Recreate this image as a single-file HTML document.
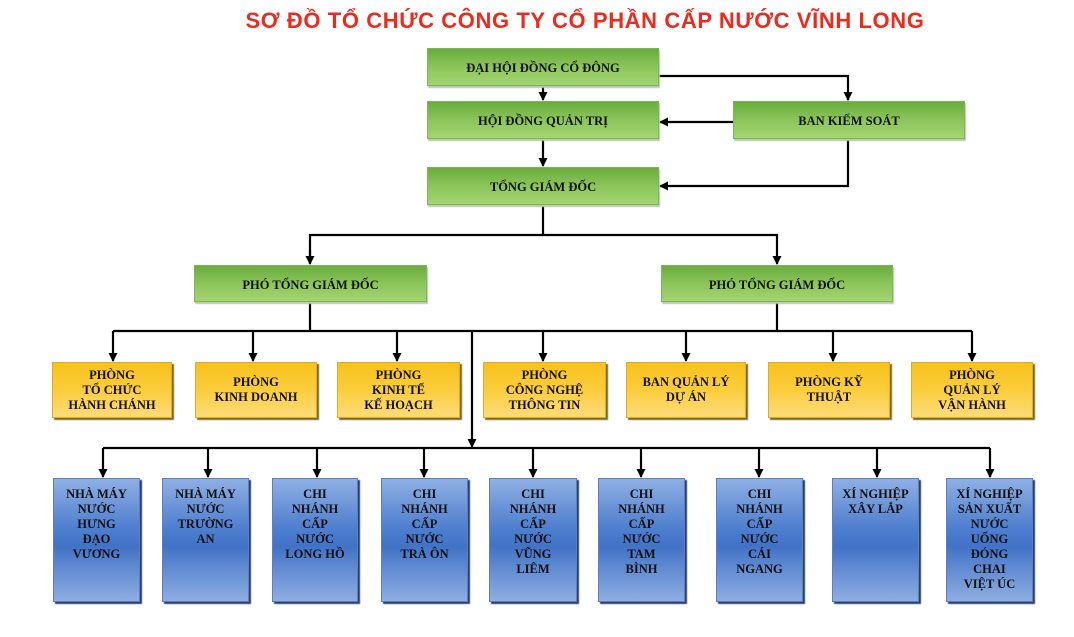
<!DOCTYPE html>
<html><head><meta charset="utf-8"><style>
body{margin:0;width:1074px;height:637px;background:#fff;position:relative;overflow:hidden;font-family:"Liberation Serif",serif}
.b{position:absolute;box-sizing:border-box;display:flex;align-items:center;justify-content:center;text-align:center;font-weight:bold;font-size:12.5px;line-height:15px;color:#111}
.g{background:linear-gradient(#6aac3d,#8cc55a 50%,#a3d471);border:1px solid #7fb55a;box-shadow:1px 2px 1px #b9c9ad;padding-top:3px}
.y{background:linear-gradient(#f7c21c,#fbcd3c 50%,#fddc7a);border:1px solid #e3ad1a;box-shadow:2px 2px 1px #7a6a30}
.u{background:linear-gradient(#8fb0e4,#4f7fcf 40%,#4272c6 55%,#8eaee2);border:1px solid #5b7fbf;box-shadow:2px 2px 1px #2c3f6a;align-items:flex-start;padding-top:8px}
svg{position:absolute;left:0;top:0}
.t{position:absolute;left:0;width:1170px;top:8px;text-align:center;font-family:"Liberation Sans",sans-serif;font-weight:bold;font-size:22px;color:#ee2a1c;letter-spacing:0.6px}
</style></head><body>
<div class="t">SƠ ĐỒ TỔ CHỨC CÔNG TY CỔ PHẦN CẤP NƯỚC VĨNH LONG</div>
<svg width="1074" height="637">
<defs><marker id="a" markerWidth="9" markerHeight="9" refX="8" refY="4.5" orient="auto" markerUnits="userSpaceOnUse"><path d="M0,0 L9,4.5 L0,9z" fill="#000"/></marker></defs>
<g stroke="#000" stroke-width="2.2" fill="none">
<path d="M543 86V100" marker-end="url(#a)"/>
<path d="M659 76H848V100" marker-end="url(#a)"/>
<path d="M733 122H660" marker-end="url(#a)"/>
<path d="M543 139V166" marker-end="url(#a)"/>
<path d="M848 139V186H660" marker-end="url(#a)"/>
<path d="M543 205V235"/>
<path d="M310 264V235H777V264" marker-end="url(#a)"/>
<path d="M310 250V264" marker-end="url(#a)"/>
<path d="M310 302V331M777 302V331M113 331H972"/>
<path d="M113 331V361" marker-end="url(#a)"/><path d="M253 331V361" marker-end="url(#a)"/><path d="M397 331V361" marker-end="url(#a)"/><path d="M543 331V361" marker-end="url(#a)"/><path d="M686 331V361" marker-end="url(#a)"/><path d="M833 331V361" marker-end="url(#a)"/><path d="M972 331V361" marker-end="url(#a)"/>
<path d="M472 331V447" marker-end="url(#a)"/>
<path d="M103 448H990"/>
<path d="M103 448V477" marker-end="url(#a)"/><path d="M208 448V477" marker-end="url(#a)"/><path d="M317 448V477" marker-end="url(#a)"/><path d="M424 448V477" marker-end="url(#a)"/><path d="M533 448V477" marker-end="url(#a)"/><path d="M641 448V477" marker-end="url(#a)"/><path d="M759 448V477" marker-end="url(#a)"/><path d="M877 448V477" marker-end="url(#a)"/><path d="M990 448V477" marker-end="url(#a)"/>
</g></svg>
<div class="b g" style="left:427px;top:48px;width:232px;height:38px">ĐẠI HỘI ĐỒNG CỔ ĐÔNG</div>
<div class="b g" style="left:427px;top:101px;width:232px;height:38px">HỘI ĐỒNG QUẢN TRỊ</div>
<div class="b g" style="left:733px;top:101px;width:232px;height:38px">BAN KIỂM SOÁT</div>
<div class="b g" style="left:427px;top:167px;width:232px;height:38px">TỔNG GIÁM ĐỐC</div>
<div class="b g" style="left:194px;top:265px;width:233px;height:37px">PHÓ TỔNG GIÁM ĐỐC</div>
<div class="b g" style="left:661px;top:265px;width:232px;height:37px">PHÓ TỔNG GIÁM ĐỐC</div>

<div class="b y" style="left:52px;top:362px;width:120px;height:56px">PHÒNG<br>TỔ CHỨC<br>HÀNH CHÁNH</div>
<div class="b y" style="left:195px;top:362px;width:122px;height:56px">PHÒNG<br>KINH DOANH</div>
<div class="b y" style="left:337px;top:362px;width:123px;height:56px">PHÒNG<br>KINH TẾ<br>KẾ HOẠCH</div>
<div class="b y" style="left:483px;top:362px;width:123px;height:56px">PHÒNG<br>CÔNG NGHỆ<br>THÔNG TIN</div>
<div class="b y" style="left:626px;top:362px;width:120px;height:56px">BAN QUẢN LÝ<br>DỰ ÁN</div>
<div class="b y" style="left:768px;top:362px;width:122px;height:56px">PHÒNG KỸ<br>THUẬT</div>
<div class="b y" style="left:911px;top:362px;width:122px;height:56px">PHÒNG<br>QUẢN LÝ<br>VẬN HÀNH</div>

<div class="b u" style="left:53px;top:478px;width:87px;height:124px">NHÀ MÁY<br>NƯỚC<br>HƯNG<br>ĐẠO<br>VƯƠNG</div>
<div class="b u" style="left:162px;top:478px;width:87px;height:124px">NHÀ MÁY<br>NƯỚC<br>TRƯỜNG<br>AN</div>
<div class="b u" style="left:272px;top:478px;width:86px;height:124px">CHI<br>NHÁNH<br>CẤP<br>NƯỚC<br>LONG HỒ</div>
<div class="b u" style="left:381px;top:478px;width:87px;height:124px">CHI<br>NHÁNH<br>CẤP<br>NƯỚC<br>TRÀ ÔN</div>
<div class="b u" style="left:489px;top:478px;width:88px;height:124px">CHI<br>NHÁNH<br>CẤP<br>NƯỚC<br>VŨNG<br>LIÊM</div>
<div class="b u" style="left:598px;top:478px;width:87px;height:124px">CHI<br>NHÁNH<br>CẤP<br>NƯỚC<br>TAM<br>BÌNH</div>
<div class="b u" style="left:716px;top:478px;width:87px;height:124px">CHI<br>NHÁNH<br>CẤP<br>NƯỚC<br>CÁI<br>NGANG</div>
<div class="b u" style="left:832px;top:478px;width:87px;height:124px">XÍ NGHIỆP<br>XÂY LẮP</div>
<div class="b u" style="left:946px;top:478px;width:87px;height:124px">XÍ NGHIỆP<br>SẢN XUẤT<br>NƯỚC<br>UỐNG<br>ĐÓNG<br>CHAI<br>VIỆT ÚC</div>
</body></html>
